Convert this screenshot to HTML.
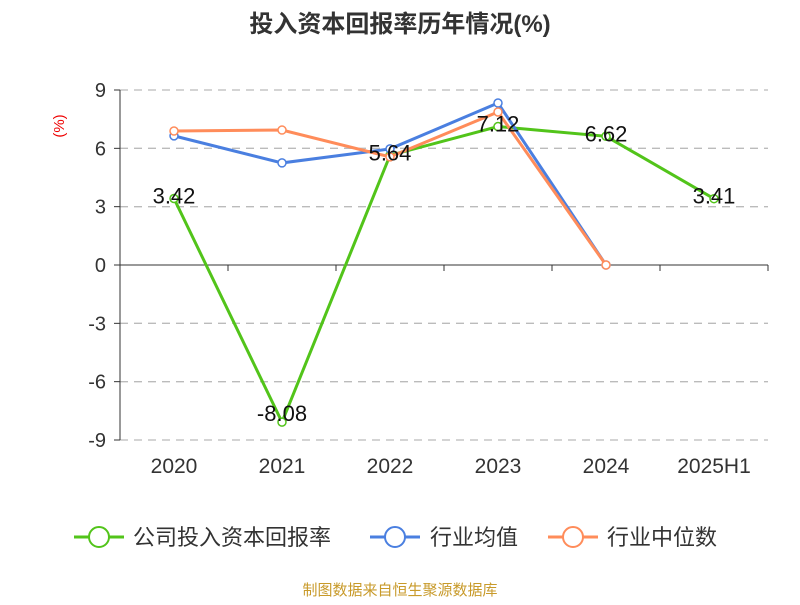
<!DOCTYPE html>
<html><head><meta charset="utf-8"><style>
body{margin:0;background:#fff;width:800px;height:600px;overflow:hidden;font-family:"Liberation Sans","Noto Sans CJK SC",sans-serif}
</style></head><body>
<svg id="c" width="800" height="600" style="font-family:'Liberation Sans','Noto Sans CJK SC',sans-serif">
<text x="400" y="32" text-anchor="middle" font-size="24" font-weight="bold" fill="#333">投入资本回报率历年情况(%)</text>
<text x="64" y="126" text-anchor="middle" font-size="15" fill="#e00" transform="rotate(-90 64 126)">(%)</text>
<g id="grid"></g><g id="axes"></g><g id="series"></g><g id="labels"></g>
<g>
<g><line x1="74" y1="537" x2="124" y2="537" stroke="#52c41a" stroke-width="3"/><circle cx="99" cy="537" r="10" fill="#fff" stroke="#52c41a" stroke-width="2"/><text x="133" y="545" font-size="22" fill="#333">公司投入资本回报率</text></g>
<g><line x1="370" y1="537" x2="420" y2="537" stroke="#4a7fe0" stroke-width="3"/><circle cx="395" cy="537" r="10" fill="#fff" stroke="#4a7fe0" stroke-width="2"/><text x="430" y="545" font-size="22" fill="#333">行业均值</text></g>
<g><line x1="548" y1="537" x2="598" y2="537" stroke="#ff8c5a" stroke-width="3"/><circle cx="573" cy="537" r="10" fill="#fff" stroke="#ff8c5a" stroke-width="2"/><text x="607" y="545" font-size="22" fill="#333">行业中位数</text></g>
</g>
<text x="400" y="595" text-anchor="middle" font-size="15" fill="#c89a2a">制图数据来自恒生聚源数据库</text>
</svg>
<script>
const categories=["2020","2021","2022","2023","2024","2025H1"];
const company=[3.42,-8.08,5.64,7.12,6.62,3.41];
const industryAvg=[6.64,5.25,5.97,8.33,0,null];
const industryMedian=[6.89,6.94,5.56,7.87,0,null];
const yTicks=[9,6,3,0,-3,-6,-9];
const NS="http://www.w3.org/2000/svg";
const x0=120,x1=768,yTop=90,yBot=440,vmax=9,vmin=-9;
const band=(x1-x0)/categories.length;
const X=i=>x0+band*(i+0.5);
const Y=v=>yTop+(vmax-v)/(vmax-vmin)*(yBot-yTop);
function mk(tag,attrs,parent){const e=document.createElementNS(NS,tag);for(const k in attrs)e.setAttribute(k,attrs[k]);document.getElementById(parent).appendChild(e);return e;}
yTicks.forEach(t=>{
 if(t!==0){const g=mk('line',{x1:x0,x2:x1,y1:Y(t),y2:Y(t),stroke:'#bbb','stroke-width':1.3,'stroke-dasharray':'8,6'},'grid');
 
 }
 const tk=mk('line',{x1:x0-6,x2:x0,y1:Y(t),y2:Y(t),stroke:'#333'},'axes');
 
 
 const l=mk('text',{x:x0-14,y:Y(t)+7,'text-anchor':'end','font-size':20,fill:'#333'},'axes');l.textContent=t;
 
 
});
const ya=mk('line',{x1:x0,x2:x0,y1:yTop,y2:yBot,stroke:'#333'},'axes');


const xa=mk('line',{x1:x0,x2:x1,y1:Y(0),y2:Y(0),stroke:'#333'},'axes');


categories.forEach((c,i)=>{
 const tk=mk('line',{x1:x0+band*(i+1),x2:x0+band*(i+1),y1:Y(0),y2:Y(0)+6,stroke:'#333'},'axes');
 
 
 const l=mk('text',{x:X(i),y:473,'text-anchor':'middle','font-size':21,fill:'#333'},'axes');l.textContent=c;
 
 
});
function series(data,color,name){
 let d='';data.forEach((v,i)=>{if(v===null)return;d+=(d?'L':'M')+X(i)+','+Y(v);});
 const p=mk('path',{d:d,fill:'none',stroke:color,'stroke-width':3},'series');
 
 
 data.forEach((v,i)=>{if(v===null)return;
  const c=mk('circle',{cx:X(i),cy:Y(v),r:4,fill:'#fff',stroke:color,'stroke-width':1.5},'series');
  
  });
}
series(company,'#52c41a','company');
series(industryAvg,'#4a7fe0','industry-avg');
series(industryMedian,'#ff8c5a','industry-median');
company.forEach((v,i)=>{
 const l=mk('text',{x:X(i),y:Y(v)+(v<0?-1:5),'text-anchor':'middle','font-size':22,fill:'#111'},'labels');
 l.textContent=v.toFixed(2);
 
 
});
</script>
</body></html>
